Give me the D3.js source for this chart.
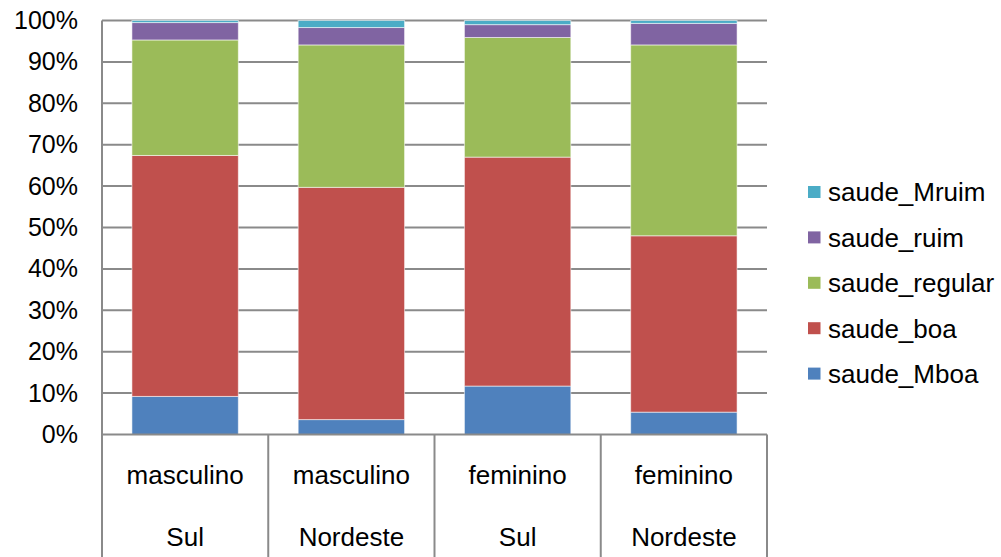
<!DOCTYPE html>
<html>
<head>
<meta charset="utf-8">
<script src="https://cdn.jsdelivr.net/npm/d3@7"></script>
<style>
  html, body { margin: 0; padding: 0; background: #fff; }
  svg { display: block; font-family: "Liberation Sans", Arial, sans-serif; }
</style>
</head>
<body>
<svg id="chart" width="1001" height="557"></svg>
<script>
// Two-level category labels (sexo / região)
const sexLabels = ["masculino", "masculino", "feminino", "feminino"];
const regionLabels = ["Sul", "Nordeste", "Sul", "Nordeste"];

// Series, from bottom of the stack to the top (percent of each group)
const seriesNames = ["saude_Mboa", "saude_boa", "saude_regular", "saude_ruim", "saude_Mruim"];
const saude_Mboa    = [9.2, 3.6, 11.7, 5.4];
const saude_boa     = [58.2, 56.1, 55.3, 42.6];
const saude_regular = [27.9, 34.4, 28.9, 46.1];
const saude_ruim    = [4.2, 4.2, 3.1, 5.2];
const saude_Mruim   = [0.5, 1.7, 1.0, 0.7];
const seriesColors = ["#4F81BD", "#C0504D", "#9BBB59", "#8064A2", "#4BACC6"];

const yTicks = [0, 10, 20, 30, 40, 50, 60, 70, 80, 90, 100];

const seriesValues = [saude_Mboa, saude_boa, saude_regular, saude_ruim, saude_Mruim];
const rows = sexLabels.map((s, i) => {
  const r = { key: i };
  seriesNames.forEach((n, k) => { r[n] = seriesValues[k][i]; });
  return r;
});

const svg = d3.select("#chart");
const plot = { left: 102, right: 767, top: 20.5, bottom: 434.5, axisBottom: 557 };

const x = d3.scaleBand()
  .domain(rows.map(r => r.key))
  .range([plot.left, plot.right])
  .paddingInner(0.36)
  .paddingOuter(0.18);

const y = d3.scaleLinear().domain([0, 100]).range([plot.bottom, plot.top]);
const color = d3.scaleOrdinal().domain(seriesNames).range(seriesColors);

// Horizontal gridlines
svg.append("g")
  .selectAll("line")
  .data(yTicks.filter(t => t > 0))
  .join("line")
  .attr("x1", plot.left).attr("x2", plot.right)
  .attr("y1", d => y(d)).attr("y2", d => y(d))
  .attr("stroke", "#8a8a8a").attr("stroke-width", 2);

// Stacked bars
const stacked = d3.stack().keys(seriesNames)(rows);
svg.append("g")
  .selectAll("g")
  .data(stacked)
  .join("g")
  .attr("fill", d => color(d.key))
  .selectAll("rect")
  .data(d => d)
  .join("rect")
  .attr("x", d => x(d.data.key))
  .attr("width", x.bandwidth())
  .attr("y", d => y(d[1]))
  .attr("height", d => y(d[0]) - y(d[1]))
  .attr("stroke", "rgba(255,255,255,0.55)")
  .attr("stroke-width", 1);

// Y axis labels
const yAxis = d3.axisLeft(y).tickValues(yTicks).tickFormat(d => d + "%").tickSize(0).tickPadding(24);
const gy = svg.append("g").attr("transform", `translate(${plot.left},0)`).call(yAxis);
gy.select(".domain").remove();
gy.selectAll("text")
  .attr("font-size", 25)
  .attr("fill", "#000")
  .attr("font-family", "Liberation Sans, Arial, sans-serif");

// Axis frame: left axis, category baseline and dividers
const frame = svg.append("g").attr("stroke", "#8a8a8a").attr("stroke-width", 2);
frame.append("line")
  .attr("x1", plot.left).attr("x2", plot.left)
  .attr("y1", plot.top).attr("y2", plot.axisBottom);
frame.append("line")
  .attr("x1", plot.left).attr("x2", plot.right)
  .attr("y1", plot.bottom).attr("y2", plot.bottom);
const step = x.step();
const dividers = d3.range(1, rows.length + 1).map(i => plot.left + i * step);
frame.selectAll(".div")
  .data(dividers)
  .join("line")
  .attr("x1", d => d).attr("x2", d => d)
  .attr("y1", plot.bottom).attr("y2", plot.axisBottom);

// Category labels, two levels
const catCenter = i => x(i) + x.bandwidth() / 2;
svg.append("g")
  .selectAll("text")
  .data(sexLabels)
  .join("text")
  .attr("x", (d, i) => catCenter(i))
  .attr("y", 484)
  .attr("text-anchor", "middle")
  .attr("font-size", 26)
  .text(d => d);
svg.append("g")
  .selectAll("text")
  .data(regionLabels)
  .join("text")
  .attr("x", (d, i) => catCenter(i))
  .attr("y", 545.5)
  .attr("text-anchor", "middle")
  .attr("font-size", 26)
  .text(d => d);

// Legend, top series first
const legendItems = seriesNames.slice().reverse();
const legend = svg.append("g").attr("transform", "translate(808,192)");
const item = legend.selectAll("g")
  .data(legendItems)
  .join("g")
  .attr("transform", (d, i) => `translate(0,${i * 45.4})`);
item.append("rect")
  .attr("x", 0).attr("y", -6)
  .attr("width", 12.5).attr("height", 12)
  .attr("fill", d => color(d));
item.append("text")
  .attr("x", 20)
  .attr("y", 9.3)
  .attr("font-size", 26)
  .text(d => d);
</script>
</body>
</html>
